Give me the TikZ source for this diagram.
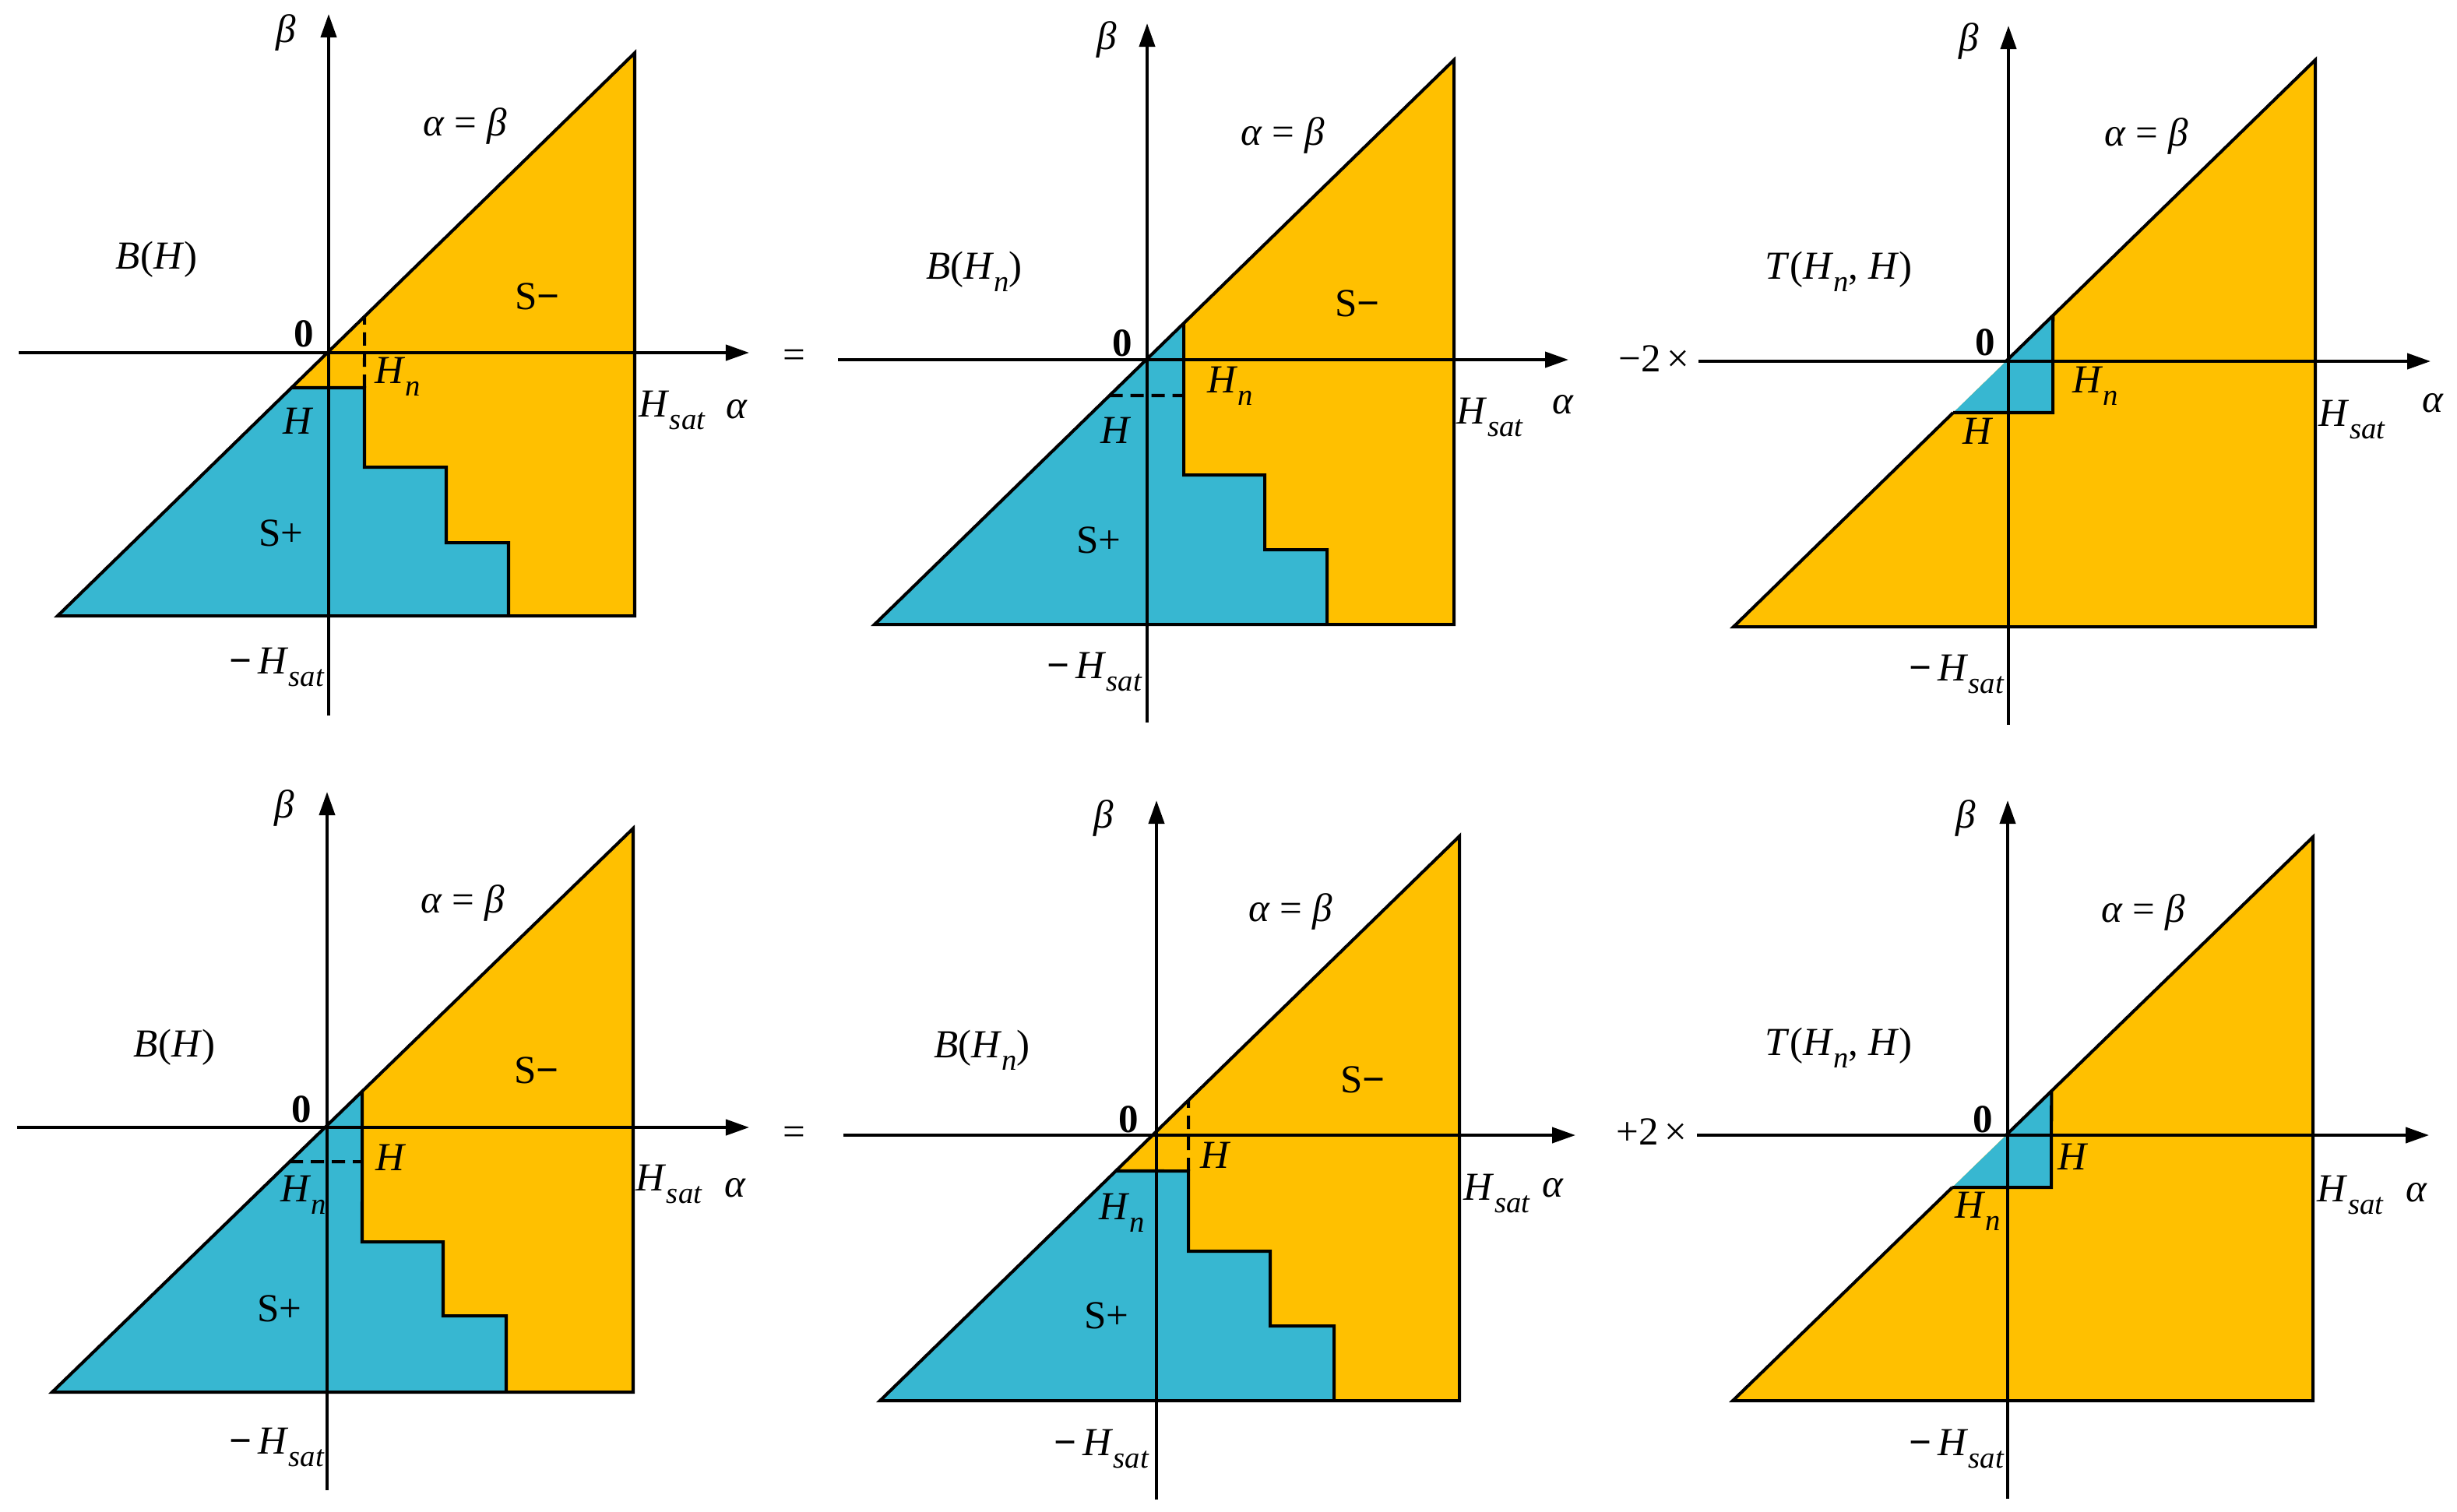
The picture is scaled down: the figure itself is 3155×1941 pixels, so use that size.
\documentclass[tikz,border=0pt]{standalone}
\usepackage{fontspec}
\setmainfont{Liberation Serif}
\usetikzlibrary{arrows.meta}
\definecolor{ylw}{RGB}{255,192,0}
\definecolor{blu}{RGB}{55,183,209}
\newcommand{\sbs}[1]{\raisebox{-0.32em}{\fontsize{11pt}{11pt}\selectfont\itshape #1}}
\newcommand{\Hsat}{\textit{H}\sbs{sat}}
\newcommand{\Hn}{\textit{H}\sbs{n}}
\newcommand{\bmin}{\textbf{−}}
\begin{document}
\begin{tikzpicture}[x=0.01cm,y=-0.01cm,
  axis/.style={line width=1.15pt,-{Triangle[length=0.3cm,width=0.2cm]}},
  edge/.style={line width=1.15pt, line join=miter},
  dsh/.style={line width=1.15pt, dash pattern=on 0.17cm off 0.1cm},
  lbl/.style={inner sep=0pt, font=\fontsize{14.5pt}{17pt}\selectfont},
  yfill/.style={fill=ylw},
  bfill/.style={fill=blu}]
\useasboundingbox (0,0) rectangle (3155,1941);
\fill[white] (0,0) rectangle (3155,1941);

% ================= Panel 1 (top left) =================
\coordinate (aTR) at (815,68);
\coordinate (aBR) at (815,791);
\coordinate (aBL) at (74,791);
\coordinate (aH1) at (0,498);
\coordinate (aH2) at (1000,498);
\coordinate (aV1) at (468,0);
\coordinate (aV2) at (468,1000);
\coordinate (aHd) at (intersection of aBL--aTR and aH1--aH2);
\coordinate (aVd) at (intersection of aBL--aTR and aV1--aV2);
\coordinate (aX0) at (24,453);
\coordinate (aX1) at (962,453);
\coordinate (aY0) at (422,919);
\coordinate (aY1) at (422,18);
\fill[yfill] (aBL) -- (aTR) -- (aBR) -- cycle;
\fill[bfill] (aBL) -- (aHd) -- (468,498) -- (468,600) -- (573,600) -- (573,697) -- (653,697) -- (653,791) -- cycle;
\draw[edge] (aBL) -- (aTR) -- (aBR) -- cycle;
\draw[edge] (aHd) -- (468,498) -- (468,600) -- (573,600) -- (573,697) -- (653,697) -- (653,791);
\draw[dsh] (468,498) -- (aVd);
\draw[axis] (aX0) -- (aX1);
\draw[axis] (aY0) -- (aY1);
\node[lbl] (aBeta) at (367,42) {\textit{β}};
\node[lbl] (aEq) at (597,162) {\textit{α} = \textit{β}};
\node[lbl] (aB) at (201,333) {\textit{B}(\textit{H})};
\node[lbl] (aSm) at (690,381) {S\bmin};
\node[lbl] (aZero) at (390,429) {\textbf{0}};
\node[lbl] (aHn) at (511,484) {\Hn};
\node[lbl] (aHsat) at (863,527) {\Hsat};
\node[lbl] (aAlpha) at (946,526) {\textit{α}};
\node[lbl] (aH) at (383,541) {\textit{H}};
\node[lbl] (aSp) at (361,685) {S+};
\node[lbl] (aMHsat) at (355,857) {\bmin\,\Hsat};

\node[lbl] (eqA) at (1020,461) {=};

% ================= Panel 2 (top middle) =================
\coordinate (bTR) at (1867,77);
\coordinate (bBR) at (1867,802);
\coordinate (bBL) at (1123,802);
\coordinate (bH1) at (1000,508);
\coordinate (bH2) at (2000,508);
\coordinate (bV1) at (1520,0);
\coordinate (bV2) at (1520,1000);
\coordinate (bHd) at (intersection of bBL--bTR and bH1--bH2);
\coordinate (bVd) at (intersection of bBL--bTR and bV1--bV2);
\coordinate (bX0) at (1076,462);
\coordinate (bX1) at (2014,462);
\coordinate (bY0) at (1473,928);
\coordinate (bY1) at (1473,30);
\fill[yfill] (bBL) -- (bTR) -- (bBR) -- cycle;
\fill[bfill] (bBL) -- (bVd) -- (1520,610) -- (1624,610) -- (1624,706) -- (1704,706) -- (1704,802) -- cycle;
\draw[edge] (bBL) -- (bTR) -- (bBR) -- cycle;
\draw[edge] (bVd) -- (1520,610) -- (1624,610) -- (1624,706) -- (1704,706) -- (1704,802);
\draw[dsh] (bHd) -- (1520,508);
\draw[axis] (bX0) -- (bX1);
\draw[axis] (bY0) -- (bY1);
\node[lbl] (bBeta) at (1421,51) {\textit{β}};
\node[lbl] (bEq) at (1647,174) {\textit{α} = \textit{β}};
\node[lbl] (bB) at (1251,349) {\textit{B}(\Hn)};
\node[lbl] (bSm) at (1743,390) {S\bmin};
\node[lbl] (bZero) at (1441,441) {\textbf{0}};
\node[lbl] (bHn) at (1580,496) {\Hn};
\node[lbl] (bHsat) at (1913,536) {\Hsat};
\node[lbl] (bAlpha) at (2007,520) {\textit{α}};
\node[lbl] (bH) at (1433,553) {\textit{H}};
\node[lbl] (bSp) at (1411,694) {S+};
\node[lbl] (bMHsat) at (1405,863) {\bmin\,\Hsat};

% ================= Panel 3 (top right) =================
\coordinate (cTR) at (2973,77);
\coordinate (cBR) at (2973,805);
\coordinate (cBL) at (2226,805);
\coordinate (cH1) at (2100,530);
\coordinate (cH2) at (3100,530);
\coordinate (cV1) at (2636,0);
\coordinate (cV2) at (2636,1000);
\coordinate (cO1) at (2100,464);
\coordinate (cO2) at (3100,464);
\coordinate (cHd) at (intersection of cBL--cTR and cH1--cH2);
\coordinate (cVd) at (intersection of cBL--cTR and cV1--cV2);
\coordinate (cOd) at (intersection of cBL--cTR and cO1--cO2);
\coordinate (cX0) at (2181,464);
\coordinate (cX1) at (3121,464);
\coordinate (cY0) at (2579,931);
\coordinate (cY1) at (2579,33);
\fill[yfill] (cBL) -- (cTR) -- (cBR) -- cycle;
\fill[bfill] (cHd) -- (2636,530) -- (cVd) -- cycle;
\draw[edge] (cOd) -- (cTR) -- (cBR) -- (cBL) -- (cHd);
\draw[edge] (cHd) -- (2636,530) -- (cVd);
\draw[axis] (cX0) -- (cX1);
\draw[axis] (cY0) -- (cY1);
\node[lbl] (cBeta) at (2528,53) {\textit{β}};
\node[lbl] (cEq) at (2756,175) {\textit{α} = \textit{β}};
\node[lbl] (cT) at (2361,349) {\textit{T}(\Hn, \textit{H})};
\node[lbl] (cFac) at (2124,461) {−2\,×};
\node[lbl] (cZero) at (2549,440) {\textbf{0}};
\node[lbl] (cHn) at (2691,496) {\Hn};
\node[lbl] (cHsat) at (3020,539) {\Hsat};
\node[lbl] (cAlpha) at (3124,518) {\textit{α}};
\node[lbl] (cH) at (2540,554) {\textit{H}};
\node[lbl] (cMHsat) at (2512,866) {\bmin\,\Hsat};

% ================= Panel 4 (bottom left) =================
\coordinate (dTR) at (813,1064);
\coordinate (dBR) at (813,1788);
\coordinate (dBL) at (67,1788);
\coordinate (dH1) at (0,1492);
\coordinate (dH2) at (1000,1492);
\coordinate (dV1) at (465,1000);
\coordinate (dV2) at (465,1941);
\coordinate (dHd) at (intersection of dBL--dTR and dH1--dH2);
\coordinate (dVd) at (intersection of dBL--dTR and dV1--dV2);
\coordinate (dX0) at (22,1448);
\coordinate (dX1) at (962,1448);
\coordinate (dY0) at (420,1914);
\coordinate (dY1) at (420,1017);
\fill[yfill] (dBL) -- (dTR) -- (dBR) -- cycle;
\fill[bfill] (dBL) -- (dVd) -- (465,1595) -- (569,1595) -- (569,1690) -- (650,1690) -- (650,1788) -- cycle;
\draw[edge] (dBL) -- (dTR) -- (dBR) -- cycle;
\draw[edge] (dVd) -- (465,1595) -- (569,1595) -- (569,1690) -- (650,1690) -- (650,1788);
\draw[dsh] (dHd) -- (465,1492);
\draw[axis] (dX0) -- (dX1);
\draw[axis] (dY0) -- (dY1);
\node[lbl] (dBeta) at (365,1038) {\textit{β}};
\node[lbl] (dEq) at (594,1160) {\textit{α} = \textit{β}};
\node[lbl] (dB) at (224,1345) {\textit{B}(\textit{H})};
\node[lbl] (dSm) at (689,1375) {S\bmin};
\node[lbl] (dZero) at (387,1425) {\textbf{0}};
\node[lbl] (dH) at (502,1487) {\textit{H}};
\node[lbl] (dHn) at (390,1535) {\Hn};
\node[lbl] (dHsat) at (859,1521) {\Hsat};
\node[lbl] (dAlpha) at (944,1526) {\textit{α}};
\node[lbl] (dSp) at (359,1681) {S+};
\node[lbl] (dMHsat) at (355,1859) {\bmin\,\Hsat};

\node[lbl] (eqB) at (1020,1459) {=};

% ================= Panel 5 (bottom middle) =================
\coordinate (eTR) at (1874,1074);
\coordinate (eBR) at (1874,1799);
\coordinate (eBL) at (1130,1799);
\coordinate (eH1) at (1000,1504);
\coordinate (eH2) at (2000,1504);
\coordinate (eV1) at (1526,1000);
\coordinate (eV2) at (1526,1941);
\coordinate (eHd) at (intersection of eBL--eTR and eH1--eH2);
\coordinate (eVd) at (intersection of eBL--eTR and eV1--eV2);
\coordinate (eX0) at (1083,1458);
\coordinate (eX1) at (2023,1458);
\coordinate (eY0) at (1485,1926);
\coordinate (eY1) at (1485,1028);
\fill[yfill] (eBL) -- (eTR) -- (eBR) -- cycle;
\fill[bfill] (eBL) -- (eHd) -- (1526,1504) -- (1526,1607) -- (1631,1607) -- (1631,1703) -- (1713,1703) -- (1713,1799) -- cycle;
\draw[edge] (eBL) -- (eTR) -- (eBR) -- cycle;
\draw[edge] (eHd) -- (1526,1504) -- (1526,1607) -- (1631,1607) -- (1631,1703) -- (1713,1703) -- (1713,1799);
\draw[dsh] (1526,1504) -- (eVd);
\draw[axis] (eX0) -- (eX1);
\draw[axis] (eY0) -- (eY1);
\node[lbl] (eBeta) at (1417,1051) {\textit{β}};
\node[lbl] (eEq) at (1657,1171) {\textit{α} = \textit{β}};
\node[lbl] (eB) at (1261,1349) {\textit{B}(\Hn)};
\node[lbl] (eSm) at (1750,1387) {S\bmin};
\node[lbl] (eZero) at (1449,1438) {\textbf{0}};
\node[lbl] (eH) at (1561,1484) {\textit{H}};
\node[lbl] (eHn) at (1441,1558) {\Hn};
\node[lbl] (eHsat) at (1922,1533) {\Hsat};
\node[lbl] (eAlpha) at (1994,1526) {\textit{α}};
\node[lbl] (eSp) at (1421,1690) {S+};
\node[lbl] (eMHsat) at (1414,1861) {\bmin\,\Hsat};

% ================= Panel 6 (bottom right) =================
\coordinate (fTR) at (2970,1075);
\coordinate (fBR) at (2970,1799);
\coordinate (fBL) at (2225,1799);
\coordinate (fH1) at (2100,1525);
\coordinate (fH2) at (3100,1525);
\coordinate (fV1) at (2634,1000);
\coordinate (fV2) at (2634,1941);
\coordinate (fO1) at (2100,1458);
\coordinate (fO2) at (3100,1458);
\coordinate (fHd) at (intersection of fBL--fTR and fH1--fH2);
\coordinate (fVd) at (intersection of fBL--fTR and fV1--fV2);
\coordinate (fOd) at (intersection of fBL--fTR and fO1--fO2);
\coordinate (fX0) at (2179,1458);
\coordinate (fX1) at (3119,1458);
\coordinate (fY0) at (2578,1925);
\coordinate (fY1) at (2578,1028);
\fill[yfill] (fBL) -- (fTR) -- (fBR) -- cycle;
\fill[bfill] (fHd) -- (2634,1525) -- (fVd) -- cycle;
\draw[edge] (fOd) -- (fTR) -- (fBR) -- (fBL) -- (fHd);
\draw[edge] (fHd) -- (2634,1525) -- (fVd);
\draw[axis] (fX0) -- (fX1);
\draw[axis] (fY0) -- (fY1);
\node[lbl] (fBeta) at (2524,1051) {\textit{β}};
\node[lbl] (fEq) at (2752,1172) {\textit{α} = \textit{β}};
\node[lbl] (fT) at (2361,1346) {\textit{T}(\Hn, \textit{H})};
\node[lbl] (fFac) at (2121,1454) {+2\,×};
\node[lbl] (fZero) at (2546,1438) {\textbf{0}};
\node[lbl] (fH) at (2662,1486) {\textit{H}};
\node[lbl] (fHn) at (2540,1556) {\Hn};
\node[lbl] (fHsat) at (3018,1535) {\Hsat};
\node[lbl] (fAlpha) at (3103,1532) {\textit{α}};
\node[lbl] (fMHsat) at (2512,1861) {\bmin\,\Hsat};
\end{tikzpicture}
\end{document}
